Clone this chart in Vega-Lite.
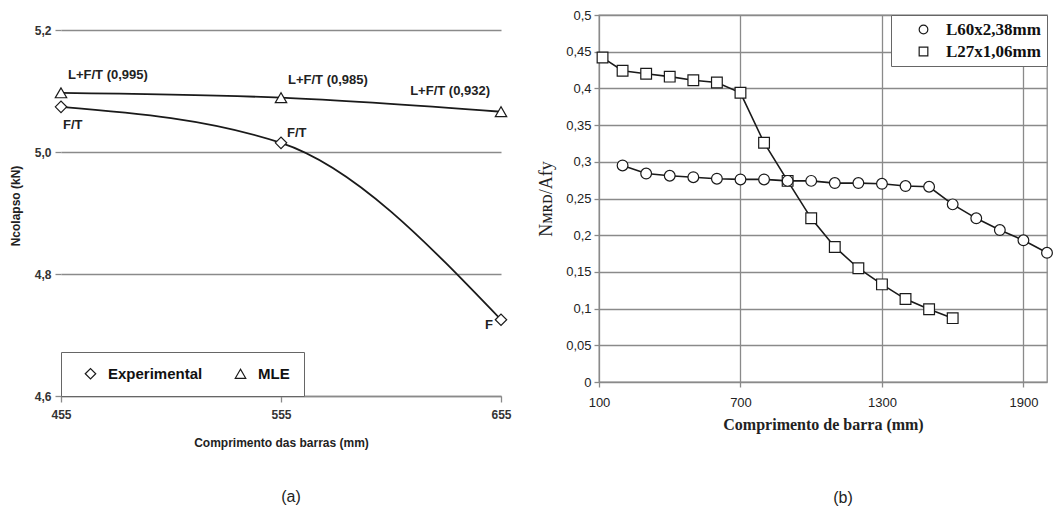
{
  "$schema": "https://vega.github.io/schema/vega-lite/v6.json",
  "background": "white",
  "padding": {"left": 9, "top": 8, "right": 5, "bottom": 5},
  "bounds": "flush",
  "spacing": 98,
  "resolve": {"scale": {"shape": "independent"}, "legend": {"shape": "independent"}},
  "config": {
    "axis": {"gridColor": "#8a8a8a", "gridWidth": 1.3, "gridOpacity": 1, "tickColor": "#8a8a8a", "tickWidth": 1.3, "domainColor": "#8a8a8a", "domainWidth": 1.3, "labelColor": "#333333", "titleColor": "#222222"}
  },
  "hconcat": [
    {
      "width": 440,
      "height": 381,
      "view": {"stroke": null},
      "title": {"text": "(a)", "orient": "bottom", "offset": 41, "dx": 10, "font": "Liberation Sans", "fontSize": 16, "fontWeight": "normal", "color": "#222222"},
      "data": {"values": [
        {"serie": "Experimental", "comprimento": 455, "ncolapso": 5.074, "rotulo": "F/T"},
        {"serie": "Experimental", "comprimento": 555, "ncolapso": 5.015, "rotulo": "F/T"},
        {"serie": "Experimental", "comprimento": 655, "ncolapso": 4.725, "rotulo": "F"},
        {"serie": "MLE", "comprimento": 455, "ncolapso": 5.097, "rotulo": "L+F/T (0,995)"},
        {"serie": "MLE", "comprimento": 555, "ncolapso": 5.089, "rotulo": "L+F/T (0,985)"},
        {"serie": "MLE", "comprimento": 655, "ncolapso": 5.066, "rotulo": "L+F/T (0,932)"}
      ]},
      "encoding": {
        "x": {"field": "comprimento", "type": "quantitative", "title": "Comprimento das barras (mm)",
          "scale": {"domain": [455, 655], "nice": false, "zero": false},
          "axis": {"values": [455, 555, 655], "format": "d", "grid": false, "domain": true, "tickSize": 6, "labelPadding": 7, "labelFlush": false,
            "labelFont": "Liberation Sans", "labelFontSize": 12, "labelFontWeight": "bold",
            "titleFont": "Liberation Sans", "titleFontSize": 12, "titleFontWeight": "bold", "titlePadding": 17}},
        "y": {"field": "ncolapso", "type": "quantitative", "title": "Ncolapso (kN)",
          "scale": {"domain": [4.6, 5.2246], "nice": false, "zero": false},
          "axis": {"values": [4.6, 4.8, 5.0, 5.2], "grid": true, "domain": false, "tickSize": 6, "labelPadding": 4,
            "labelExpr": "replace(format(datum.value, '.1f'), '.', ',')",
            "labelFont": "Liberation Sans", "labelFontSize": 12, "labelFontWeight": "bold",
            "titleFont": "Liberation Sans", "titleFontSize": 12, "titleFontWeight": "bold", "titlePadding": 12}}
      },
      "layer": [
        {
          "data": {"values": [{"comprimento": 455}, {"comprimento": 555}, {"comprimento": 655}]},
          "mark": {"type": "rule", "color": "#8a8a8a", "strokeWidth": 1.3},
          "encoding": {"y": {"datum": 4.6, "title": "Ncolapso (kN)"}, "y2": {"datum": 5.2}}
        },
        {
          "mark": {"type": "line", "interpolate": "monotone", "color": "#1a1a1a", "strokeWidth": 1.8},
          "encoding": {"detail": {"field": "serie", "type": "nominal"}}
        },
        {
          "mark": {"type": "point", "filled": false, "fill": "white", "stroke": "#1a1a1a", "strokeWidth": 1.2, "size": 130, "opacity": 1},
          "encoding": {
            "shape": {"field": "serie", "type": "nominal",
              "scale": {"domain": ["Experimental", "MLE"], "range": ["diamond", "triangle-up"]},
              "legend": {"title": null, "orient": "bottom-left", "offset": 0, "direction": "horizontal",
                "strokeColor": "#666666", "fillColor": "white", "padding": 14, "symbolOffset": 8, "symbolSize": 110,
                "labelFont": "Liberation Sans", "labelFontSize": 15, "labelFontWeight": "bold", "labelColor": "#111111",
                "labelOffset": 10, "columnPadding": 22, "symbolStrokeWidth": 1.2, "symbolFillColor": "white"}
            }
          }
        },
        {
          "transform": [{"filter": "datum.serie === 'MLE' && datum.comprimento < 600"}],
          "mark": {"type": "text", "align": "left", "baseline": "middle", "dx": 7, "dy": -18, "font": "Liberation Sans", "fontSize": 13, "fontWeight": "bold", "color": "#222222"},
          "encoding": {"text": {"field": "rotulo"}}
        },
        {
          "transform": [{"filter": "datum.serie === 'MLE' && datum.comprimento > 600"}],
          "mark": {"type": "text", "align": "right", "baseline": "middle", "dx": -11, "dy": -21, "font": "Liberation Sans", "fontSize": 13, "fontWeight": "bold", "color": "#222222"},
          "encoding": {"text": {"field": "rotulo"}}
        },
        {
          "transform": [{"filter": "datum.serie === 'Experimental' && datum.comprimento < 500"}],
          "mark": {"type": "text", "align": "left", "baseline": "middle", "dx": 2, "dy": 18, "font": "Liberation Sans", "fontSize": 13, "fontWeight": "bold", "color": "#222222"},
          "encoding": {"text": {"field": "rotulo"}}
        },
        {
          "transform": [{"filter": "datum.serie === 'Experimental' && datum.comprimento > 500 && datum.comprimento < 600"}],
          "mark": {"type": "text", "align": "left", "baseline": "middle", "dx": 6, "dy": -10, "font": "Liberation Sans", "fontSize": 13, "fontWeight": "bold", "color": "#222222"},
          "encoding": {"text": {"field": "rotulo"}}
        },
        {
          "transform": [{"filter": "datum.serie === 'Experimental' && datum.comprimento > 600"}],
          "mark": {"type": "text", "align": "right", "baseline": "middle", "dx": -8, "dy": 5, "font": "Liberation Sans", "fontSize": 13, "fontWeight": "bold", "color": "#222222"},
          "encoding": {"text": {"field": "rotulo"}}
        }
      ]
    },
    {
      "width": 448,
      "height": 367,
      "view": {"stroke": "#8a8a8a", "strokeWidth": 1.3},
      "title": {"text": "(b)", "orient": "bottom", "offset": 58, "dx": 20, "font": "Liberation Sans", "fontSize": 16, "fontWeight": "normal", "color": "#222222"},
      "data": {"values": [
        {"perfil": "L27x1,06mm", "comprimento": 115, "razao": 0.442},
        {"perfil": "L27x1,06mm", "comprimento": 200, "razao": 0.424},
        {"perfil": "L27x1,06mm", "comprimento": 300, "razao": 0.420},
        {"perfil": "L27x1,06mm", "comprimento": 400, "razao": 0.416},
        {"perfil": "L27x1,06mm", "comprimento": 500, "razao": 0.411},
        {"perfil": "L27x1,06mm", "comprimento": 600, "razao": 0.408},
        {"perfil": "L27x1,06mm", "comprimento": 700, "razao": 0.394},
        {"perfil": "L27x1,06mm", "comprimento": 800, "razao": 0.326},
        {"perfil": "L27x1,06mm", "comprimento": 900, "razao": 0.274},
        {"perfil": "L27x1,06mm", "comprimento": 1000, "razao": 0.223},
        {"perfil": "L27x1,06mm", "comprimento": 1100, "razao": 0.184},
        {"perfil": "L27x1,06mm", "comprimento": 1200, "razao": 0.155},
        {"perfil": "L27x1,06mm", "comprimento": 1300, "razao": 0.133},
        {"perfil": "L27x1,06mm", "comprimento": 1400, "razao": 0.113},
        {"perfil": "L27x1,06mm", "comprimento": 1500, "razao": 0.099},
        {"perfil": "L27x1,06mm", "comprimento": 1600, "razao": 0.087},
        {"perfil": "L60x2,38mm", "comprimento": 200, "razao": 0.295},
        {"perfil": "L60x2,38mm", "comprimento": 300, "razao": 0.284},
        {"perfil": "L60x2,38mm", "comprimento": 400, "razao": 0.281},
        {"perfil": "L60x2,38mm", "comprimento": 500, "razao": 0.279},
        {"perfil": "L60x2,38mm", "comprimento": 600, "razao": 0.277},
        {"perfil": "L60x2,38mm", "comprimento": 700, "razao": 0.276},
        {"perfil": "L60x2,38mm", "comprimento": 800, "razao": 0.276},
        {"perfil": "L60x2,38mm", "comprimento": 900, "razao": 0.274},
        {"perfil": "L60x2,38mm", "comprimento": 1000, "razao": 0.274},
        {"perfil": "L60x2,38mm", "comprimento": 1100, "razao": 0.271},
        {"perfil": "L60x2,38mm", "comprimento": 1200, "razao": 0.271},
        {"perfil": "L60x2,38mm", "comprimento": 1300, "razao": 0.270},
        {"perfil": "L60x2,38mm", "comprimento": 1400, "razao": 0.267},
        {"perfil": "L60x2,38mm", "comprimento": 1500, "razao": 0.266},
        {"perfil": "L60x2,38mm", "comprimento": 1600, "razao": 0.242},
        {"perfil": "L60x2,38mm", "comprimento": 1700, "razao": 0.223},
        {"perfil": "L60x2,38mm", "comprimento": 1800, "razao": 0.207},
        {"perfil": "L60x2,38mm", "comprimento": 1900, "razao": 0.193},
        {"perfil": "L60x2,38mm", "comprimento": 2000, "razao": 0.176}
      ]},
      "encoding": {
        "x": {"field": "comprimento", "type": "quantitative", "title": "Comprimento de barra (mm)",
          "scale": {"domain": [100, 2000], "nice": false, "zero": false},
          "axis": {"values": [100, 700, 1300, 1900], "format": "d", "grid": true, "domain": false, "tickSize": 5, "labelPadding": 9, "labelFlush": false,
            "labelFont": "Liberation Sans", "labelFontSize": 13, "labelColor": "#222222",
            "titleFont": "Liberation Serif", "titleFontSize": 16, "titleFontWeight": "bold", "titlePadding": 7}},
        "y": {"field": "razao", "type": "quantitative", "title": "Nᴍʀᴅ/Afy",
          "scale": {"domain": [0, 0.5], "nice": false, "zero": true},
          "axis": {"values": [0, 0.05, 0.1, 0.15, 0.2, 0.25, 0.3, 0.35, 0.4, 0.45, 0.5], "grid": true, "domain": false, "tickSize": 5, "labelPadding": 3,
            "labelExpr": "replace(format(datum.value, '.2~f'), '.', ',')",
            "labelFont": "Liberation Sans", "labelFontSize": 13, "labelColor": "#222222",
            "titleFont": "Liberation Serif", "titleFontSize": 18, "titleFontWeight": "normal", "titlePadding": 10}}
      },
      "layer": [
        {
          "mark": {"type": "line", "color": "#1a1a1a", "strokeWidth": 1.6},
          "encoding": {"detail": {"field": "perfil", "type": "nominal"}}
        },
        {
          "mark": {"type": "point", "filled": false, "fill": "white", "stroke": "#1a1a1a", "strokeWidth": 1.2, "size": 115, "opacity": 1},
          "encoding": {
            "shape": {"field": "perfil", "type": "nominal",
              "scale": {"domain": ["L60x2,38mm", "L27x1,06mm"], "range": ["circle", "square"]},
              "legend": {"title": null, "orient": "top-right", "offset": 0, "direction": "vertical",
                "strokeColor": "#666666", "fillColor": "white", "padding": 6, "symbolOffset": 18, "symbolSize": 75,
                "labelFont": "Liberation Serif", "labelFontSize": 17, "labelFontWeight": "bold", "labelColor": "#111111",
                "labelOffset": 14, "rowPadding": 4, "symbolStrokeWidth": 1.2, "symbolFillColor": "white"}
            }
          }
        }
      ]
    }
  ]
}
